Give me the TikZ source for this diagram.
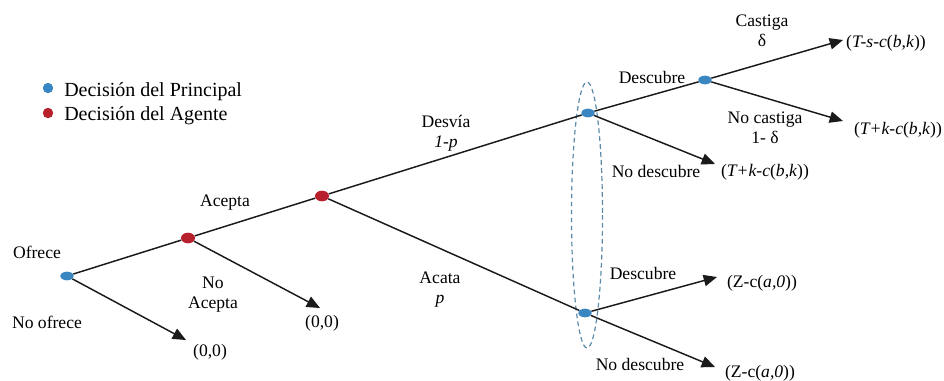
\documentclass[tikz,border=0pt]{standalone}
\usepackage{fontspec}
\setmainfont{Liberation Serif}
\usetikzlibrary{arrows.meta,shapes.geometric}
\definecolor{pblue}{HTML}{3A86C0}
\definecolor{ared}{HTML}{B8202E}
\definecolor{infoset}{HTML}{5A8AA8}
\definecolor{edgec}{HTML}{1A1A1A}
\tikzset{
  pnode/.style={ellipse,fill=pblue,inner sep=0pt,minimum width=10pt,minimum height=6.5pt},
  anode/.style={ellipse,fill=ared,inner sep=0pt,minimum width=10.5pt,minimum height=8pt},
  legdot/.style={circle,inner sep=0pt,minimum size=7.8pt},
  edge/.style={draw=edgec,line width=1.1pt},
  move/.style={edge,-{Triangle[length=10pt,width=8.5pt]}},
  lab/.style={font=\fontsize{13.2}{15}\selectfont,inner sep=1pt,align=center},
  leg/.style={font=\fontsize{15}{17}\selectfont,anchor=west,inner sep=0pt},
}
\begin{document}
\begin{tikzpicture}[x=0.75pt,y=-0.75pt]
\useasboundingbox (0,0) rectangle (944,380);
% legend
\node[legdot,fill=pblue] (lb) at (48,88) {};
\node[legdot,fill=ared] (lr) at (48,113) {};
\node[leg] (lbt) at (64,92) {Decisión del Principal};
\node[leg] (lrt) at (64,116) {Decisión del Agente};
% information set
\draw[infoset,dash pattern=on 3.5pt off 2.5pt,line width=0.9pt] (587,215) ellipse [x radius=15.5,y radius=133];
% decision nodes
\node[pnode] (O) at (67,276) {};
\node[anode] (A1) at (188,238) {};
\node[anode] (A2) at (322,196) {};
\node[pnode] (P1) at (588,113) {};
\node[pnode] (P2) at (585,313) {};
\node[pnode] (P3) at (705,80) {};
% terminal points
\coordinate (t1) at (186,340);
\coordinate (t2) at (320,308);
\coordinate (t3) at (843,40);
\coordinate (t4) at (843,121);
\coordinate (t5) at (715,164);
\coordinate (t6) at (717,277);
\coordinate (t7) at (715,367);
% edges
\draw[edge] (O) -- (A1);
\draw[edge] (A1) -- (A2);
\draw[edge] (A2) -- (P1);
\draw[edge] (A2) -- (P2);
\draw[edge] (P1) -- (P3);
\draw[move] (O) -- (t1);
\draw[move] (A1) -- (t2);
\draw[move] (P3) -- (t3);
\draw[move] (P3) -- (t4);
\draw[move] (P1) -- (t5);
\draw[move] (P2) -- (t6);
\draw[move] (P2) -- (t7);
% labels
\node[lab] (l1) at (37,252) {Ofrece};
\node[lab] (l2) at (47,322) {No ofrece};
\node[lab] (l3) at (225,203) {Acepta};
\node[lab] (l4) at (213,295) {No\\Acepta};
\node[lab] (p1) at (210,352) {(0,0)};
\node[lab] (p2) at (322,323) {(0,0)};
\node[lab] (l5) at (446,133) {Desvía\\\textit{1-p}};
\node[lab] (l6) at (440,290) {Acata\\\textit{p}};
\node[lab] (l7) at (652,77) {Descubre};
\node[lab] (l8) at (762,31) {Castiga\\δ};
\node[lab] (l9) at (765,128) {No castiga\\1- δ};
\node[lab] (l10) at (656,171) {No descubre};
\node[lab] (l11) at (643,273) {Descubre};
\node[lab] (l12) at (640,364) {No descubre};
\node[lab] (p3) at (886,43) {(\textit{T-s-c}(\textit{b,k}))};
\node[lab] (p4) at (898,130) {(\textit{T+k-c}(\textit{b,k}))};
\node[lab] (p5) at (765,172) {(\textit{T+k-c}(\textit{b,k}))};
\node[lab] (p6) at (762,283) {(Z-c(\textit{a,0}))};
\node[lab] (p7) at (760,373) {(Z-c(\textit{a,0}))};
\end{tikzpicture}
\end{document}
